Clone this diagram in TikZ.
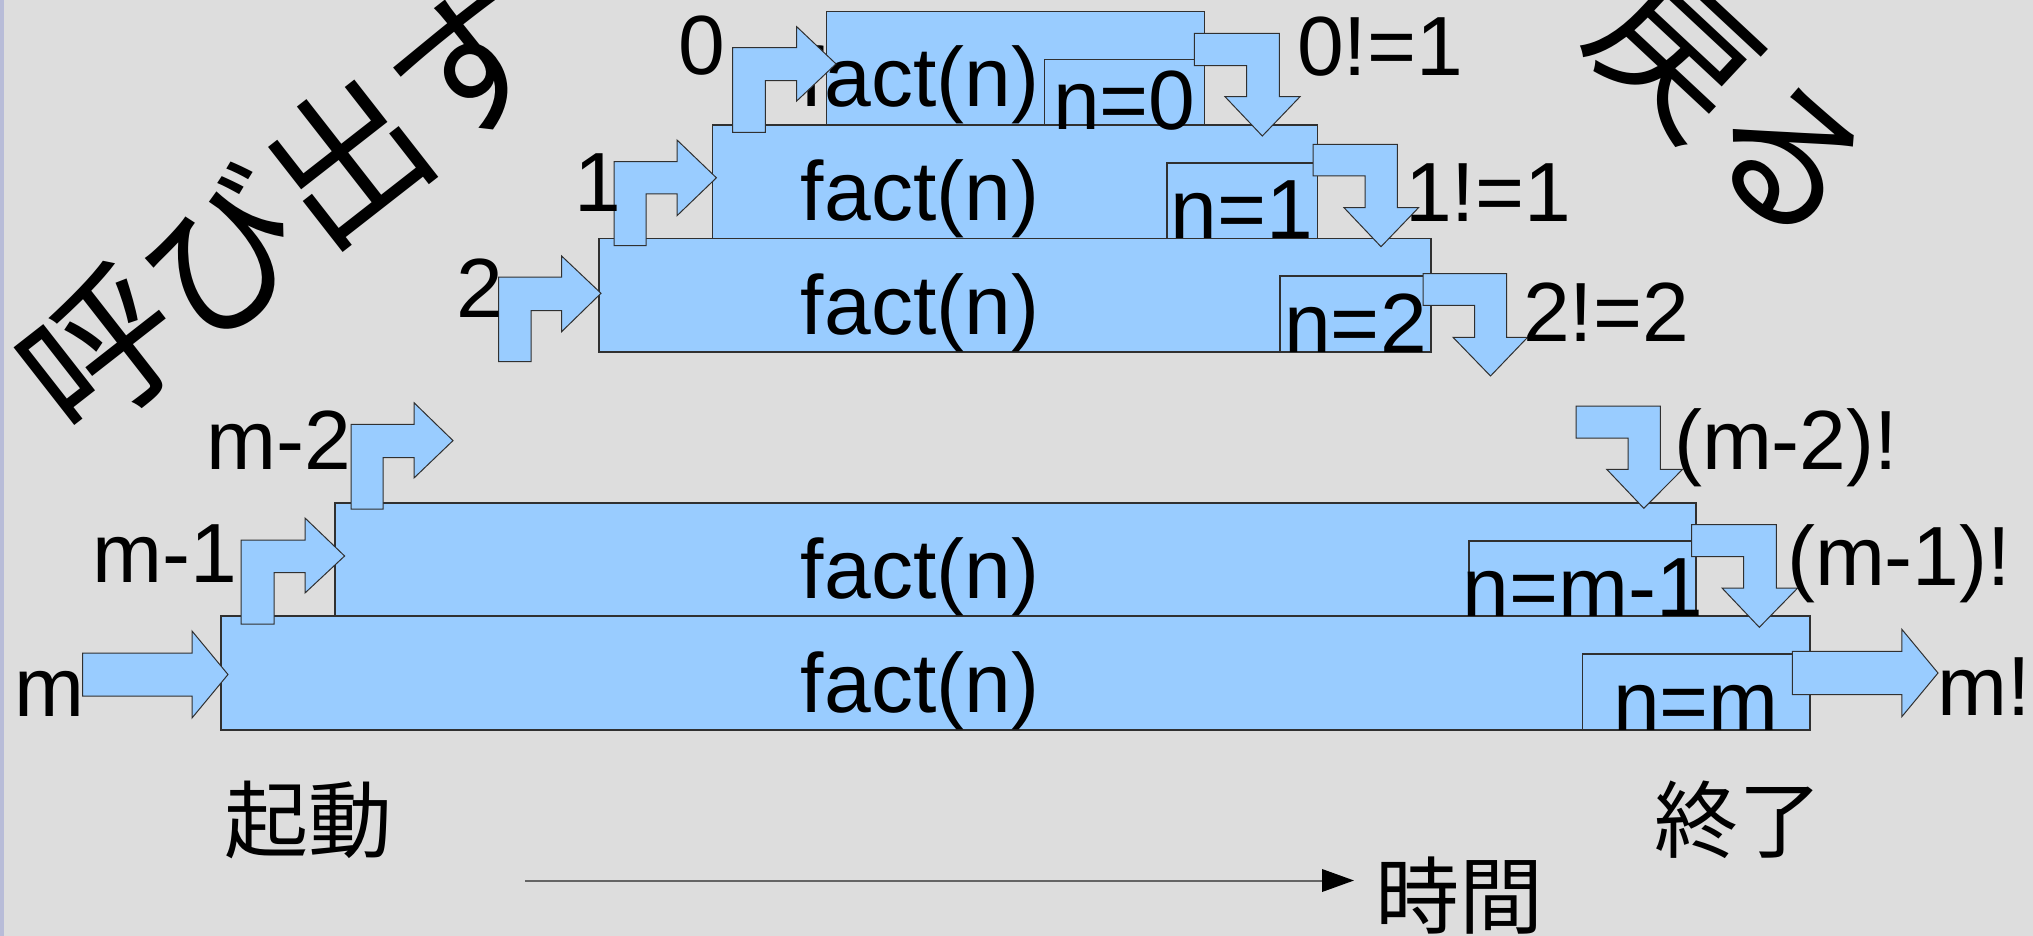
\documentclass[tikz,border=0pt]{standalone}
\usepackage{fontspec}
\setmainfont{Liberation Sans}
\newfontfamily\jpfont{Noto Sans CJK JP}
\usetikzlibrary{arrows.meta}
\definecolor{bg}{HTML}{DDDDDD}
\definecolor{boxblue}{HTML}{99CCFF}
\definecolor{stripc}{RGB}{184,188,216}
\definecolor{edge}{HTML}{303030}
\definecolor{timeline}{RGB}{100,100,100}
\begin{document}
\begin{tikzpicture}[x=1pt,y=-1pt,
  box/.style={draw=edge, line width=1.1pt, fill=boxblue, inner sep=0pt, outer sep=0pt, anchor=north west},
  flow/.style={draw=edge, line width=1pt, fill=boxblue, line join=miter},
  lbl/.style={font=\fontsize{84}{100}\selectfont, inner sep=0pt, anchor=base},
  jp/.style={font=\jpfont\fontsize{84}{100}\selectfont, inner sep=0pt},
  big/.style={font=\jpfont\fontsize{156}{180}\selectfont, inner sep=0pt}]
% background
\fill[bg] (0,0) rectangle (2033,936);
\useasboundingbox (0,0) rectangle (2033,936);
\fill[stripc] (0,0) rectangle (4,936);

% level boxes
\node[box, minimum width=1589pt, minimum height=114pt] (Lm) at (221,616) {};
\node[box, minimum width=1361pt, minimum height=113pt] (Lm1) at (335,503) {};
\node[box, minimum width=832pt, minimum height=113.7pt] (L2) at (599,238.3) {};
\node[box, minimum width=605.2pt, minimum height=113.3pt] (L1) at (712.5,125) {};
\node[box, minimum width=377.6pt, minimum height=113.3pt] (L0) at (826.7,11.7) {};

% n boxes
\node[box, minimum width=160pt, minimum height=65.7pt] (n0) at (1044.3,59.3) {};
\node[box, minimum width=150.7pt, minimum height=75.3pt] (n1) at (1167,163) {};
\node[box, minimum width=151pt, minimum height=76pt] (n2) at (1280,276) {};
\node[box, minimum width=227pt, minimum height=75pt] (nm1) at (1469,541) {};
\node[box, minimum width=227.5pt, minimum height=76pt] (nm) at (1582.5,654) {};

% fact(n) texts
\node[lbl] (f0) at (920,107) {fact(n)};
\node[lbl] (f1) at (920,220) {fact(n)};
\node[lbl] (f2) at (920,334) {fact(n)};
\node[lbl] (fm1) at (920,598) {fact(n)};
\node[lbl] (fm) at (920,712) {fact(n)};

% n= texts
\node[lbl] (t0) at (1124.3,130) {n=0};
\node[lbl] (t1) at (1242,238.3) {n=1};
\node[lbl] (t2) at (1355.5,352) {n=2};
\node[lbl] (tm1) at (1582.5,616) {n=m-1};
\node[lbl] (tm) at (1696,730) {n=m};

% call arrows (bent right)
\filldraw[flow] (498.7,361.7) -- (498.7,277) -- (561.6,277) -- (561.6,256) -- (601,293.3) -- (561.6,331.7) -- (561.6,310.7) -- (531,310.7) -- (531,361.7) -- cycle;
\filldraw[flow] (614,245.7) -- (614,161.7) -- (677,161.7) -- (677,140) -- (716.4,177.8) -- (677,215.7) -- (677,194) -- (646,194) -- (646,245.7) -- cycle;
\filldraw[flow] (732.7,132.3) -- (732.7,47.7) -- (796.7,47.7) -- (796.7,26.7) -- (836,63.9) -- (796.7,101) -- (796.7,80.7) -- (765.3,80.7) -- (765.3,132.3) -- cycle;
\filldraw[flow] (351,509) -- (351,424.3) -- (414,424.3) -- (414,402.7) -- (453,440.6) -- (414,478) -- (414,457.7) -- (383,457.7) -- (383,509) -- cycle;
\filldraw[flow] (241,624) -- (241,540) -- (305,540) -- (305,518) -- (344.6,556) -- (305,593) -- (305,572.7) -- (274,572.7) -- (274,624) -- cycle;
% straight arrows
\filldraw[flow] (82.6,653) -- (192,653) -- (192,631) -- (228,674.5) -- (192,718) -- (192,696) -- (82.6,696) -- cycle;
\filldraw[flow] (1792.4,651.3) -- (1901.8,651.3) -- (1901.8,629.3) -- (1938,673) -- (1901.8,716.7) -- (1901.8,694.7) -- (1792.4,694.7) -- cycle;
% return arrows (bent down)
\filldraw[flow] (1194.3,33.3) -- (1279.3,33.3) -- (1279.3,96.7) -- (1300,96.7) -- (1262.3,136) -- (1225,96.7) -- (1246.7,96.7) -- (1246.7,65.7) -- (1194.3,65.7) -- cycle;
\filldraw[flow] (1313,144.3) -- (1397.4,144.3) -- (1397.4,207.7) -- (1418.5,207.7) -- (1381,246.7) -- (1344,207.7) -- (1365,207.7) -- (1365,176) -- (1313,176) -- cycle;
\filldraw[flow] (1423,273.7) -- (1506.5,273.7) -- (1506.5,337.3) -- (1527.6,337.3) -- (1490.5,376) -- (1453,337.3) -- (1474.6,337.3) -- (1474.6,305.3) -- (1423,305.3) -- cycle;
\filldraw[flow] (1576,406) -- (1660.4,406) -- (1660.4,469.3) -- (1682.6,469.3) -- (1643.8,508.3) -- (1606.7,469.3) -- (1628,469.3) -- (1628,438) -- (1576,438) -- cycle;
\filldraw[flow] (1691.5,524.7) -- (1776.3,524.7) -- (1776.3,588) -- (1797.7,588) -- (1759.3,627.3) -- (1722,588) -- (1743.6,588) -- (1743.6,556.7) -- (1691.5,556.7) -- cycle;

% argument labels
\node[lbl] (a0) at (701.5,75) {0};
\node[lbl] (a1) at (598,211.7) {1};
\node[lbl] (a2) at (480,317) {2};
\node[lbl] (am2) at (278.5,469) {m-2};
\node[lbl] (am1) at (165,582) {m-1};
\node[lbl] (am) at (49,716.7) {m};
% result labels
\node[lbl] (r0) at (1380,76) {0!=1};
\node[lbl] (r1) at (1488,221.7) {1!=1};
\node[lbl] (r2) at (1606,341.7) {2!=2};
\node[lbl] (rm2) at (1786,469) {(m-2)!};
\node[lbl] (rm1) at (1899,585) {(m-1)!};
\node[lbl, anchor=base west] (rm) at (1937.5,715) {m!};

% Japanese labels
\node[jp] (start) at (308,820) {起動};
\node[jp] (finish) at (1738,820) {終了};
\node[jp] (time) at (1459.4,896) {時間};
\node[big, rotate=38] (call) at (285,207) {呼び出す};
\node[big, rotate=-43] (ret) at (1731,107) {戻る};

% time axis
\coordinate (ts) at (525,880.5);
\coordinate (te) at (1354,880.5);
\draw[line width=2pt, draw=timeline, -{Triangle[length=32pt,width=22.5pt,fill=black,color=black]}] (ts) -- (te);
\end{tikzpicture}
\end{document}
